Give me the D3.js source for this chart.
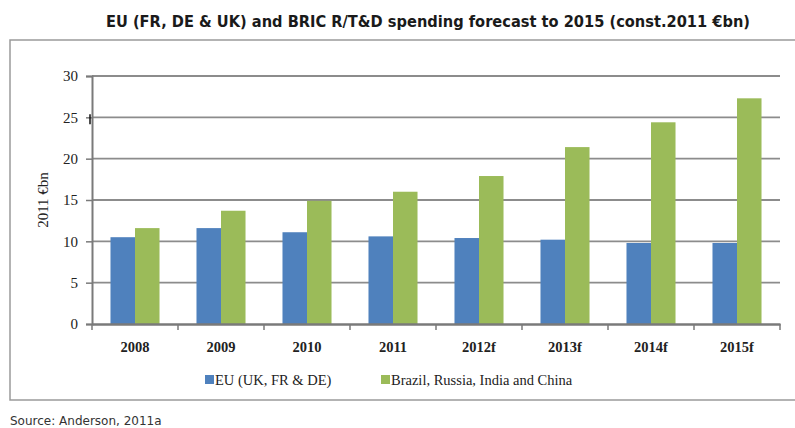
<!DOCTYPE html>
<html>
<head>
<meta charset="utf-8">
<script src="https://cdn.jsdelivr.net/npm/d3@7"></script>
<style>
  body { margin: 0; background: #fff; }
  svg { display: block; }
</style>
</head>
<body>
<div id="chart"></div>
<script>
var years = ["2008", "2009", "2010", "2011", "2012f", "2013f", "2014f", "2015f"];
var euValues = [10.5, 11.6, 11.1, 10.6, 10.4, 10.2, 9.8, 9.8];
var bricValues = [11.6, 13.7, 14.9, 16.0, 17.9, 21.4, 24.4, 27.3];
var seriesNames = ["EU (UK, FR & DE)", "Brazil, Russia, India and China"];
var yTicks = [0, 5, 10, 15, 20, 25, 30];

var width = 795,
    height = 428;
var colors = ["#4f81bd", "#9bbb59"];
var serif = "'Liberation Serif', 'DejaVu Serif', serif";

var svg = d3.select("#chart")
    .append("svg")
    .attr("width", width)
    .attr("height", height);

// title
svg.append("text")
    .attr("x", 106)
    .attr("y", 27)
    .attr("textLength", 644)
    .attr("lengthAdjust", "spacingAndGlyphs")
    .style("font-family", "'DejaVu Sans Condensed', 'Liberation Sans', sans-serif")
    .style("font-weight", "bold")
    .style("font-size", "15px")
    .attr("fill", "#1a1a1a")
    .text("EU (FR, DE & UK) and BRIC R/T&D spending forecast to 2015 (const.2011 €bn)");

// frame
svg.append("path")
    .attr("d", "M" + (width + 2) + ",40H10V400H" + (width + 2))
    .attr("fill", "none")
    .attr("stroke", "#9a9a9a")
    .attr("stroke-width", 1.5);

var margin = {left: 92, right: 15, top: 76, bottom: 104};
var plotW = width - margin.left - margin.right,
    plotH = height - margin.top - margin.bottom;

var g = svg.append("g")
    .attr("transform", "translate(" + margin.left + "," + margin.top + ")");

var x0 = d3.scaleBand().domain(years).range([0, plotW]).paddingInner(0).paddingOuter(0);
var x1 = d3.scaleBand().domain([0, 1]).range([x0.bandwidth() * 0.215, x0.bandwidth() * 0.785]);
var y = d3.scaleLinear().domain([0, 30]).range([plotH, 0]);

// gridlines
g.selectAll(".grid")
    .data(yTicks.filter(function (d) { return d > 0; }))
  .enter().append("line")
    .attr("x1", 0)
    .attr("x2", plotW)
    .attr("y1", function (d) { return y(d); })
    .attr("y2", function (d) { return y(d); })
    .attr("stroke", "#8c8c8c")
    .attr("stroke-width", 1.8);

// bars
var rows = years.map(function (yr, i) { return {year: yr, vals: [euValues[i], bricValues[i]]}; });
var groups = g.selectAll(".grp")
    .data(rows)
  .enter().append("g")
    .attr("transform", function (d) { return "translate(" + x0(d.year) + ",0)"; });

groups.selectAll("rect")
    .data(function (d) { return d.vals.map(function (v, k) { return {k: k, v: v}; }); })
  .enter().append("rect")
    .attr("x", function (d) { return x1(d.k); })
    .attr("width", x1.bandwidth())
    .attr("y", function (d) { return y(d.v); })
    .attr("height", function (d) { return plotH - y(d.v); })
    .attr("fill", function (d) { return colors[d.k]; });

// y axis
var yAxis = g.append("g")
    .call(d3.axisLeft(y).tickValues(yTicks).tickSize(6).tickPadding(8));
yAxis.select(".domain").attr("stroke", "#7a7a7a").attr("stroke-width", 2);
yAxis.selectAll(".tick line").attr("stroke", "#7a7a7a").attr("stroke-width", 1.5);
yAxis.selectAll(".tick text")
    .style("font-family", serif)
    .style("font-size", "15px")
    .attr("fill", "#222");

// stray mark next to 25
g.append("line")
    .attr("x1", -2).attr("x2", -2)
    .attr("y1", y(25) - 3).attr("y2", y(25) + 7)
    .attr("stroke", "#111")
    .attr("stroke-width", 1.5);

// x axis
var xAxis = g.append("g")
    .attr("transform", "translate(0," + plotH + ")")
    .call(d3.axisBottom(x0).tickSize(0).tickPadding(18));
xAxis.select(".domain").attr("stroke", "#7a7a7a").attr("stroke-width", 2.5);
xAxis.selectAll(".tick text")
    .style("font-family", serif)
    .style("font-size", "14.5px")
    .style("font-weight", "bold")
    .attr("fill", "#222");

g.selectAll(".xtick")
    .data(years.concat(["end"]))
  .enter().append("line")
    .attr("x1", function (d, i) { return i * x0.step(); })
    .attr("x2", function (d, i) { return i * x0.step(); })
    .attr("y1", plotH)
    .attr("y2", plotH + 6)
    .attr("stroke", "#7a7a7a")
    .attr("stroke-width", 1.5);

// y label
svg.append("text")
    .attr("transform", "translate(48," + (margin.top + plotH / 2) + ") rotate(-90)")
    .attr("text-anchor", "middle")
    .style("font-family", serif)
    .style("font-size", "15px")
    .attr("fill", "#222")
    .text("2011 €bn");

// legend
var legendX = [205, 381];
var leg = svg.selectAll(".leg")
    .data(seriesNames)
  .enter().append("g")
    .attr("transform", function (d, i) { return "translate(" + legendX[i] + ",375)"; });
leg.append("rect")
    .attr("width", 9)
    .attr("height", 9)
    .attr("fill", function (d, i) { return colors[i]; });
leg.append("text")
    .attr("x", 10)
    .attr("y", 10)
    .style("font-family", serif)
    .style("font-size", "14.5px")
    .attr("fill", "#222")
    .text(function (d) { return d; });

// source
svg.append("text")
    .attr("x", 10)
    .attr("y", 425)
    .style("font-family", "'DejaVu Sans', sans-serif")
    .style("font-size", "12px")
    .attr("fill", "#333")
    .text("Source: Anderson, 2011a");
</script>
</body>
</html>
